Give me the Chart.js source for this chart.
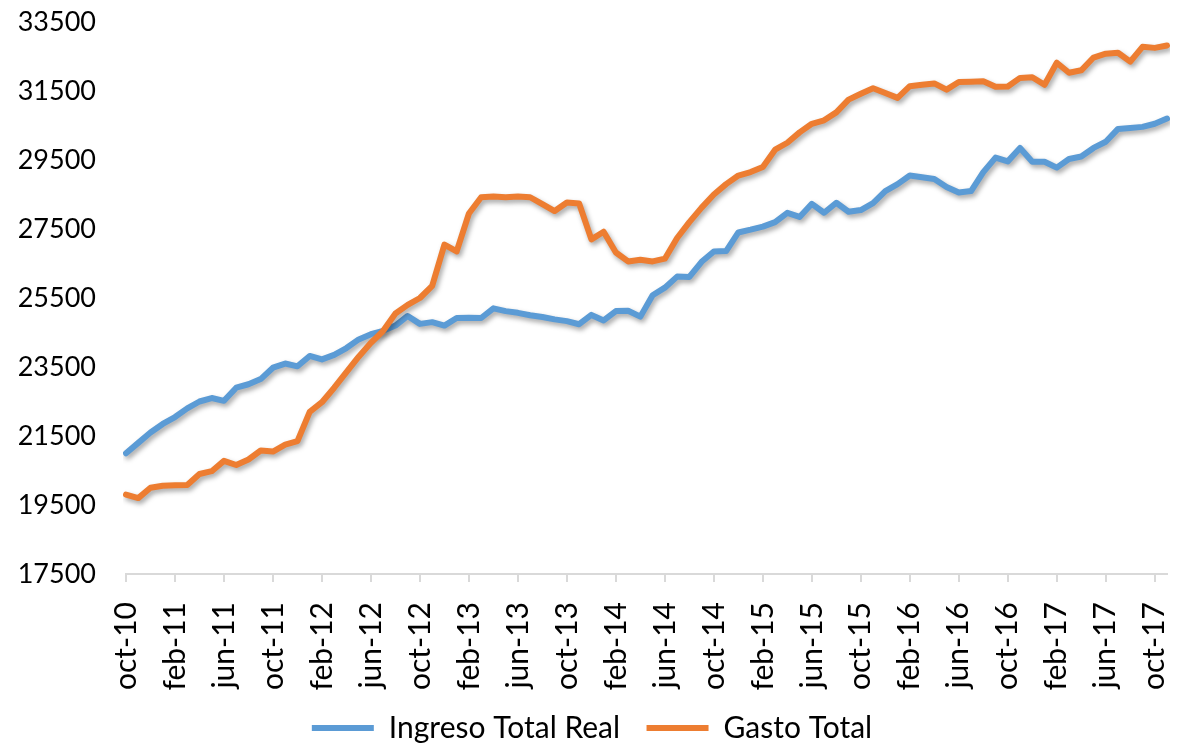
<!DOCTYPE html>
<html lang="es">
<head>
<meta charset="UTF-8">
<title>Ingreso Total Real y Gasto Total</title>
<script src="https://cdn.jsdelivr.net/npm/chart.js@4"></script>
<style>
  html, body { margin: 0; padding: 0; background: #fff; }
  .chart-box { width: 1183px; height: 745px; }
</style>
</head>
<body>
<div class="chart-box"><canvas id="chart"></canvas></div>
<script>
// meses, oct-10 a nov-17
const months = [
  'oct-10','nov-10','dic-10',
  'ene-11','feb-11','mar-11','abr-11','may-11','jun-11','jul-11','ago-11','sep-11','oct-11','nov-11','dic-11',
  'ene-12','feb-12','mar-12','abr-12','may-12','jun-12','jul-12','ago-12','sep-12','oct-12','nov-12','dic-12',
  'ene-13','feb-13','mar-13','abr-13','may-13','jun-13','jul-13','ago-13','sep-13','oct-13','nov-13','dic-13',
  'ene-14','feb-14','mar-14','abr-14','may-14','jun-14','jul-14','ago-14','sep-14','oct-14','nov-14','dic-14',
  'ene-15','feb-15','mar-15','abr-15','may-15','jun-15','jul-15','ago-15','sep-15','oct-15','nov-15','dic-15',
  'ene-16','feb-16','mar-16','abr-16','may-16','jun-16','jul-16','ago-16','sep-16','oct-16','nov-16','dic-16',
  'ene-17','feb-17','mar-17','abr-17','may-17','jun-17','jul-17','ago-17','sep-17','oct-17','nov-17'
];

const ingresoTotalReal = [
  21000, 21300, 21600, 21850, 22050, 22300, 22500, 22600, 22520, 22900,
  23000, 23150, 23480, 23600, 23520, 23820, 23720, 23850, 24050, 24300,
  24450, 24550, 24700, 24980, 24750, 24800, 24700, 24920, 24930, 24920,
  25200, 25120, 25070, 25000, 24950, 24880, 24830, 24740, 25010, 24850,
  25120, 25130, 24960, 25580, 25800, 26120, 26110, 26550, 26850, 26860,
  27400, 27480, 27570, 27700, 27970, 27850, 28230, 27970, 28260, 28000,
  28050, 28250, 28600, 28800, 29050, 29000, 28950, 28720, 28560, 28600,
  29150, 29570, 29460, 29850, 29450, 29450, 29280, 29530, 29600, 29850,
  30030, 30400, 30430, 30460, 30550, 30700
];

const gastoTotal = [
  19800, 19700, 20000, 20060, 20070, 20080, 20400, 20480, 20780, 20660,
  20820, 21080, 21050, 21250, 21350, 22200, 22480, 22900, 23350, 23800,
  24200, 24550, 25050, 25300, 25500, 25850, 27050, 26850, 27950, 28420,
  28440, 28420, 28440, 28420, 28220, 28020, 28270, 28240, 27200, 27420,
  26820, 26560, 26610, 26560, 26640, 27240, 27700, 28120, 28500, 28800,
  29050, 29150, 29300, 29800, 30000, 30300, 30550, 30650, 30880, 31250,
  31420, 31580, 31440, 31300, 31640, 31680, 31720, 31540, 31760, 31770,
  31780, 31620, 31630, 31880, 31900, 31680, 32320, 32030, 32100, 32470,
  32580, 32610, 32350, 32780, 32750, 32820
];

const yMin = 17500;
const yMax = 33500;
const yStep = 2000;

// sombra de las lineas, como en Excel
const lineShadow = {
  id: 'lineShadow',
  beforeDatasetsDraw(chart) {
    const c = chart.ctx;
    c.save();
    c.shadowColor = 'rgba(0, 0, 0, 0.35)';
    c.shadowBlur = 5;
    c.shadowOffsetX = 2;
    c.shadowOffsetY = 3;
  },
  afterDatasetsDraw(chart) {
    chart.ctx.restore();
  }
};

const font = 'Lato, "Open Sans", sans-serif';

new Chart(document.getElementById('chart'), {
  type: 'line',
  data: {
    labels: months,
    datasets: [
      {
        label: 'Ingreso Total Real',
        data: ingresoTotalReal,
        borderColor: '#5B9BD5',
        backgroundColor: '#5B9BD5',
        borderWidth: 6,
        borderCapStyle: 'round',
        borderJoinStyle: 'round',
        pointRadius: 0,
        tension: 0,
        order: 1
      },
      {
        label: 'Gasto Total',
        data: gastoTotal,
        borderColor: '#ED7D31',
        backgroundColor: '#ED7D31',
        borderWidth: 6,
        borderCapStyle: 'round',
        borderJoinStyle: 'round',
        pointRadius: 0,
        tension: 0,
        order: 0
      }
    ]
  },
  options: {
    responsive: true,
    maintainAspectRatio: false,
    animation: false,
    layout: { padding: { top: 22, left: 17, right: 16, bottom: -8 } },
    plugins: {
      tooltip: { enabled: false },
      legend: {
        position: 'bottom',
        labels: {
          usePointStyle: true,
          pointStyle: 'line',
          pointStyleWidth: 62,
          padding: 4,
          color: '#000',
          font: { family: font, size: 30 },
          sort: (a, b) => a.datasetIndex - b.datasetIndex,
          generateLabels: (chart) => {
            const items = Chart.defaults.plugins.legend.labels.generateLabels(chart);
            // espacio entre las dos entradas
            items.forEach((it) => { if (it.datasetIndex === 0) it.text += '\u2003'; });
            return items;
          }
        }
      }
    },
    scales: {
      x: {
        offset: false,
        afterBuildTicks: (scale) => {
          scale.ticks = scale.ticks.filter((t, i) => i % 4 === 0);
        },
        afterFit: (scale) => {
          scale.height = 135;
          scale.paddingLeft = 0;
          scale.paddingRight = 0;
        },
        grid: {
          display: true,
          drawOnChartArea: false,
          drawTicks: true,
          tickLength: 8,
          color: '#d9d9d9',
          lineWidth: 2
        },
        border: { display: true, color: '#d9d9d9', width: 2 },
        ticks: {
          autoSkip: false,
          minRotation: 90,
          maxRotation: 90,
          padding: 20,
          color: '#000',
          font: { family: font, size: 30 }
        }
      },
      y: {
        min: yMin,
        max: yMax,
        afterFit: (scale) => {
          scale.width = 109;
          scale.paddingTop = 0;
          scale.paddingBottom = 0;
        },
        grid: { display: false, drawTicks: false },
        border: { display: false },
        ticks: {
          stepSize: yStep,
          padding: 30,
          color: '#000',
          font: { family: font, size: 27 },
          callback: (v) => String(v)
        }
      }
    }
  },
  plugins: [lineShadow]
});
</script>
</body>
</html>
